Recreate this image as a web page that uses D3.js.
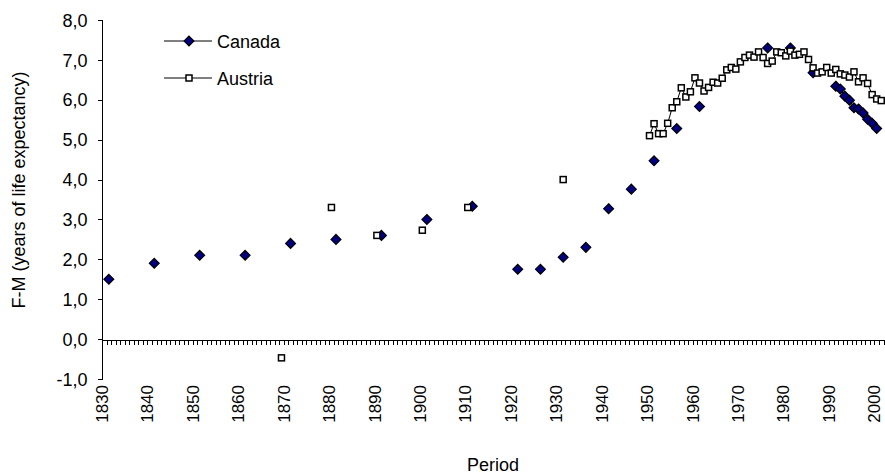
<!DOCTYPE html>
<html>
<head>
<meta charset="utf-8">
<script src="https://cdn.jsdelivr.net/npm/d3@7"></script>
<style>
  body { margin: 0; background: #fff; }
  text { font-family: "Liberation Sans", Arial, sans-serif; fill: #000; }
</style>
</head>
<body>
<div class="chart"></div>
<script>
// Canada: census-type years, then yearly 1991-2000
const canadaYears = [1831, 1841, 1851, 1861, 1871, 1881, 1891, 1901, 1911, 1921, 1926, 1931, 1936, 1941, 1946, 1951, 1956, 1961, 1976, 1981, 1986,
  1991, 1992, 1993, 1994, 1995, 1996, 1997, 1998, 1999, 2000];
const canadaValues = [1.5, 1.9, 2.1, 2.1, 2.4, 2.5, 2.6, 3.0, 3.33, 1.75, 1.75, 2.05, 2.3, 3.27, 3.76, 4.47, 5.28, 5.83, 7.3, 7.3, 6.68,
  6.34, 6.27, 6.09, 5.99, 5.8, 5.77, 5.67, 5.51, 5.41, 5.28];

// Austria: a few early points, then yearly 1950-2001
const austriaYears = [1869, 1880, 1890, 1900, 1910, 1931,
  1950, 1951, 1952, 1953, 1954, 1955, 1956, 1957, 1958, 1959,
  1960, 1961, 1962, 1963, 1964, 1965, 1966, 1967, 1968, 1969,
  1970, 1971, 1972, 1973, 1974, 1975, 1976, 1977, 1978, 1979,
  1980, 1981, 1982, 1983, 1984, 1985, 1986, 1987, 1988, 1989,
  1990, 1991, 1992, 1993, 1994, 1995, 1996, 1997, 1998, 1999, 2000, 2001];
const austriaValues = [-0.47, 3.3, 2.6, 2.73, 3.3, 4.0,
  5.1, 5.4, 5.15, 5.15, 5.41, 5.8, 5.95, 6.3, 6.07, 6.2,
  6.55, 6.42, 6.22, 6.31, 6.44, 6.42, 6.54, 6.75, 6.81, 6.77,
  6.95, 7.06, 7.12, 7.07, 7.2, 7.06, 6.91, 6.97, 7.2, 7.18,
  7.1, 7.22, 7.12, 7.14, 7.2, 7.01, 6.8, 6.67, 6.7, 6.81,
  6.67, 6.76, 6.65, 6.62, 6.57, 6.7, 6.45, 6.55, 6.41, 6.13, 6.02, 5.98];

const firstYear = 1830;
const lastYear = 2001;
const yTicks = [-1, 0, 1, 2, 3, 4, 5, 6, 7, 8];
const labelYears = d3.range(1830, 2001, 10);

const width = 885;
const height = 475;
const margin = ({top: 20, right: 1.5, bottom: 96, left: 102});

const svg = d3.select('.chart')
  .append('svg')
  .attr('width', width)
  .attr('height', height);

// one category per year, marks sit in the middle of their year
const xScale = d3.scaleLinear()
  .domain([firstYear, lastYear + 1])
  .range([margin.left, width - margin.right]);

const yScale = d3.scaleLinear()
  .domain([-1, 8])
  .range([379, margin.top]);

const cx = yr => xScale(yr + 0.5);

// y axis
const yAxis = d3.axisLeft(yScale)
  .tickValues(yTicks)
  .tickSize(5)
  .tickPadding(10)
  .tickFormat(d => d.toFixed(1).replace('.', ','));

svg.append('g')
  .attr('class', 'axis y-axis')
  .attr('transform', `translate(${margin.left + 0.5},0)`)
  .call(yAxis)
  .call(g => g.select('.domain').remove())
  .call(g => g.selectAll('text')
    .attr('font-size', 18)
    .attr('font-family', '"Liberation Sans", Arial, sans-serif')
    .attr('dy', '0.34em'));

svg.append('line')
  .attr('x1', margin.left + 0.5).attr('x2', margin.left + 0.5)
  .attr('y1', yScale(8)).attr('y2', yScale(-1))
  .attr('stroke', '#000');

// x axis at zero with a tick between each year
const xAxis = d3.axisBottom(xScale)
  .tickValues(d3.range(firstYear, lastYear + 2))
  .tickSize(5)
  .tickSizeOuter(0)
  .tickFormat('');

svg.append('g')
  .attr('class', 'axis x-axis')
  .attr('transform', `translate(0,${Math.round(yScale(0)) + 0.5})`)
  .call(xAxis);

svg.selectAll('.axis path, .axis line')
  .attr('stroke', '#000')
  .attr('shape-rendering', 'crispEdges');

// decade labels, rotated
svg.append('g')
  .selectAll('text')
  .data(labelYears)
  .enter()
  .append('text')
  .attr('transform', d => `translate(${cx(d) - 2.5},385) rotate(-90)`)
  .attr('text-anchor', 'end')
  .attr('dy', '0.36em')
  .attr('font-size', 17)
  .text(d => d);

// axis titles
svg.append('text')
  .attr('x', 493)
  .attr('y', 471)
  .attr('text-anchor', 'middle')
  .attr('font-size', 18)
  .text('Period');

svg.append('text')
  .attr('transform', 'translate(25,190) rotate(-90)')
  .attr('text-anchor', 'middle')
  .attr('font-size', 18)
  .text('F-M (years of life expectancy)');

// series
const canada = canadaYears.map((yr, i) => ({year: yr, value: canadaValues[i]}));
const austria = austriaYears.map((yr, i) => ({year: yr, value: austriaValues[i]}));

// Excel-style line: only join neighbouring years
function segments(data) {
  const out = [];
  let cur = [];
  data.forEach((d, i) => {
    if (i > 0 && d.year !== data[i - 1].year + 1) {
      if (cur.length > 1) out.push(cur);
      cur = [];
    }
    cur.push(d);
  });
  if (cur.length > 1) out.push(cur);
  return out;
}

const line = d3.line()
  .x(d => cx(d.year))
  .y(d => yScale(d.value));

const diamond = d3.symbol().type(d3.symbolDiamond2).size(62);

function drawSeries(data, kind) {
  svg.append('g')
    .selectAll('path')
    .data(segments(data))
    .enter()
    .append('path')
    .attr('d', line)
    .attr('fill', 'none')
    .attr('stroke', '#000')
    .attr('stroke-width', 1);

  const g = svg.append('g');
  if (kind === 'diamond') {
    g.selectAll('path')
      .data(data)
      .enter()
      .append('path')
      .attr('d', diamond)
      .attr('transform', d => `translate(${cx(d.year)},${yScale(d.value)})`)
      .attr('fill', '#000080')
      .attr('stroke', '#000')
      .attr('stroke-width', 1.2);
  } else {
    g.selectAll('rect')
      .data(data)
      .enter()
      .append('rect')
      .attr('x', d => cx(d.year) - 3)
      .attr('y', d => yScale(d.value) - 3)
      .attr('width', 6)
      .attr('height', 6)
      .attr('fill', '#fff')
      .attr('stroke', '#000')
      .attr('stroke-width', 1.5);
  }
}

drawSeries(canada, 'diamond');
drawSeries(austria, 'square');

// legend
const legend = [
  {name: 'Canada', kind: 'diamond', y: 41},
  {name: 'Austria', kind: 'square', y: 78}
];

const lg = svg.append('g').attr('class', 'legend');
legend.forEach(item => {
  lg.append('line')
    .attr('x1', 164).attr('x2', 212)
    .attr('y1', item.y).attr('y2', item.y)
    .attr('stroke', '#000');
  if (item.kind === 'diamond') {
    lg.append('path')
      .attr('d', diamond)
      .attr('transform', `translate(189,${item.y})`)
      .attr('fill', '#000080')
      .attr('stroke', '#000')
      .attr('stroke-width', 1.2);
  } else {
    lg.append('rect')
      .attr('x', 186).attr('y', item.y - 3)
      .attr('width', 6).attr('height', 6)
      .attr('fill', '#fff')
      .attr('stroke', '#000')
      .attr('stroke-width', 1.5);
  }
  lg.append('text')
    .attr('x', 217)
    .attr('y', item.y + 6.5)
    .attr('font-size', 18)
    .text(item.name);
});
</script>
</body>
</html>
